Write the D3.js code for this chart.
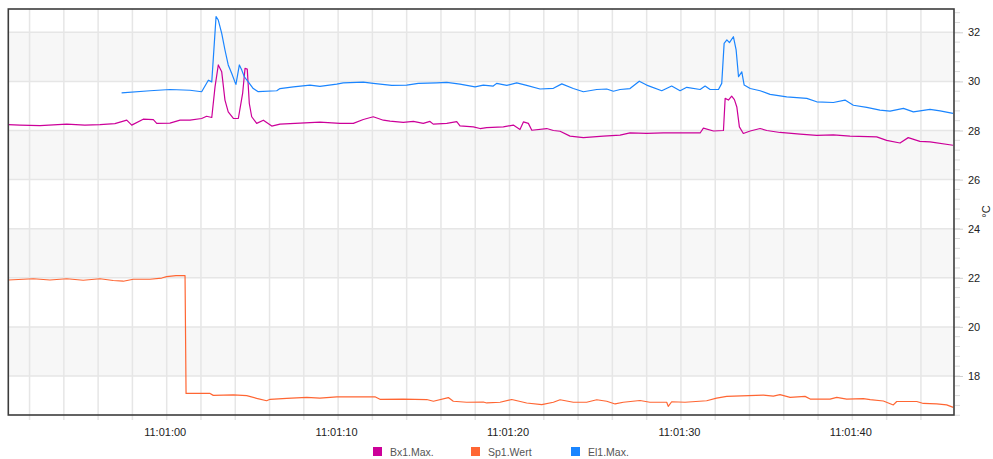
<!DOCTYPE html>
<html>
<head>
<meta charset="utf-8">
<script src="https://cdn.jsdelivr.net/npm/d3@7"></script>
<style>
  body { margin: 0; background: #fff; }
  svg { display: block; font-family: "Liberation Sans", Arial, sans-serif; }
</style>
</head>
<body>
<div id="chart"></div>
<script>
// seconds relative to 11:01:00, values in °C
var seriesNames = ['Bx1.Max.', 'Sp1.Wert', 'El1.Max.'];
var seriesColors = ['#cc0099', '#ff6633', '#1a85ff'];

var bxTime = [-9.24,-8.56,-7.39,-5.83,-4.77,-3.89,-3.02,-2.33,-2.04,-1.37,-0.78,-0.58,0.19,0.78,1.36,2.04,2.33,2.63,2.82,3.01,3.21,3.40,3.59,3.89,4.18,4.43,4.57,4.70,4.82,4.96,5.25,5.64,6.13,6.61,7.78,8.94,10.11,10.89,11.47,12.05,12.64,13.03,13.80,14.39,14.97,15.36,15.55,16.34,16.92,17.11,17.89,18.28,18.67,19.64,20.22,20.61,20.81,21.10,21.30,22.17,22.56,22.95,23.53,24.31,25.47,26.45,27.03,28.00,28.97,31.12,31.31,31.90,32.48,32.58,32.77,32.96,33.12,33.26,33.41,33.64,34.04,34.62,35.01,35.78,36.95,37.92,38.89,39.86,41.42,42.00,42.78,43.26,43.94,44.53,45.87];
var bxValue = [28.24,28.22,28.20,28.26,28.22,28.24,28.28,28.42,28.22,28.46,28.44,28.29,28.30,28.42,28.42,28.49,28.58,28.53,29.78,30.67,30.39,29.24,28.76,28.49,28.49,29.51,30.53,30.50,29.10,28.56,28.29,28.42,28.18,28.26,28.30,28.34,28.29,28.29,28.45,28.56,28.42,28.38,28.33,28.37,28.29,28.37,28.26,28.29,28.36,28.19,28.15,28.08,28.12,28.15,28.22,28.04,28.35,28.29,28.01,28.08,28.00,27.97,27.77,27.71,27.77,27.81,27.90,27.88,27.90,27.90,28.10,27.98,28.00,29.31,29.24,29.40,29.26,28.96,28.15,27.88,27.98,28.08,28.00,27.92,27.85,27.80,27.82,27.77,27.74,27.60,27.49,27.71,27.56,27.54,27.40];

var spTime = [-9.24,-7.78,-6.81,-5.83,-4.87,-3.89,-3.12,-2.53,-1.95,-0.97,-0.29,0.00,0.54,1.07,1.13,2.53,2.72,3.89,4.67,5.25,5.83,6.03,7.00,8.17,8.94,9.92,12.15,12.44,13.80,15.17,15.56,16.43,16.72,17.50,18.47,18.67,19.45,20.13,21.00,21.88,22.56,22.95,23.72,24.50,25.09,25.67,26.16,26.64,27.61,28.19,29.17,29.26,29.46,30.24,31.50,32.08,32.67,34.81,35.39,35.78,36.37,37.24,37.54,38.70,39.09,39.67,40.64,41.04,41.81,42.39,42.59,43.76,44.14,44.92,45.50,45.89];
var spValue = [21.91,21.96,21.91,21.96,21.90,21.96,21.89,21.86,21.94,21.94,21.99,22.05,22.09,22.09,17.29,17.29,17.21,17.23,17.20,17.09,16.99,17.05,17.09,17.13,17.10,17.15,17.15,17.05,17.06,17.04,16.97,17.12,16.97,16.93,16.94,16.90,16.93,17.04,16.90,16.83,16.93,17.03,16.93,16.93,17.03,16.97,16.86,16.93,17.00,16.93,16.93,16.76,16.95,16.93,16.99,17.10,17.17,17.22,17.18,17.24,17.13,17.17,17.06,17.06,17.13,17.06,17.08,17.04,16.98,16.82,16.96,16.96,16.88,16.86,16.82,16.72];

var elTime = [-2.63,-0.97,0.19,1.36,2.04,2.43,2.63,2.88,3.01,3.21,3.40,3.59,3.79,3.98,4.04,4.24,4.38,4.53,4.76,5.05,5.34,6.42,6.61,7.39,8.36,8.94,9.92,10.30,11.47,12.05,13.13,14.00,14.68,15.75,16.34,17.11,17.99,18.47,19.05,19.25,19.84,20.42,21.00,21.78,22.56,23.05,23.72,24.31,25.09,25.67,26.06,26.45,27.03,27.57,28.00,28.88,29.46,29.95,30.34,31.12,31.41,31.70,32.19,32.38,32.52,32.68,32.83,33.06,33.22,33.36,33.55,33.69,34.04,34.62,35.20,36.17,37.34,37.92,38.89,39.57,40.06,40.84,41.61,42.20,42.98,43.56,44.53,45.12,45.87];
var elValue = [29.53,29.62,29.67,29.64,29.58,30.05,29.98,32.64,32.50,31.96,31.28,30.67,30.33,29.98,29.88,30.67,30.46,30.19,29.98,29.71,29.58,29.62,29.71,29.78,29.85,29.80,29.89,29.94,29.97,29.92,29.84,29.85,29.92,29.94,29.96,29.89,29.78,29.85,29.81,29.92,29.84,29.94,29.84,29.69,29.72,29.90,29.71,29.58,29.67,29.69,29.60,29.67,29.71,30.01,29.85,29.62,29.81,29.62,29.76,29.67,29.81,29.67,29.67,29.92,31.55,31.69,31.58,31.82,31.28,30.19,30.39,29.85,29.71,29.62,29.47,29.37,29.31,29.17,29.14,29.24,29.03,28.94,28.83,28.79,28.90,28.76,28.86,28.80,28.70];

var timeStart = -9.24, timeEnd = 45.93;
var valueMin = 16.41, valueMax = 32.95;
var majorTicks = [18, 20, 22, 24, 26, 28, 30, 32];
var bandPairs = [[30, 32], [26, 28], [22, 24], [18, 20]];

function draw_chart() {
  const W = 993, H = 459;
  const margin = {top: 9, right: 39, bottom: 44, left: 8.3};
  const width = W - margin.left - margin.right,
        height = H - margin.top - margin.bottom;

  const base = new Date(2020, 0, 1, 11, 1, 0);
  const toDate = s => new Date(base.getTime() + s * 1000);

  const svg = d3.select('#chart').append('svg')
      .attr('width', W)
      .attr('height', H);

  const g = svg.append('g')
      .attr('transform', `translate(${margin.left},${margin.top})`);

  const x = d3.scaleTime()
      .domain([toDate(timeStart), toDate(timeEnd)])
      .range([0, width]);

  const y = d3.scaleLinear()
      .domain([valueMin, valueMax])
      .range([height, 0]);

  // alternating bands
  g.selectAll('.band')
    .data(bandPairs)
    .join('rect')
      .attr('class', 'band')
      .attr('x', 0)
      .attr('width', width)
      .attr('y', d => y(d[1]))
      .attr('height', d => y(d[0]) - y(d[1]))
      .attr('fill', '#f7f7f7');

  // grid lines
  const tick2s = x.ticks(d3.timeSecond.every(2));
  g.append('g')
    .selectAll('line')
    .data(tick2s)
    .join('line')
      .attr('x1', d => x(d)).attr('x2', d => x(d))
      .attr('y1', 0).attr('y2', height + 5)
      .attr('stroke', '#e6e6e6')
      .attr('stroke-width', 1.5);

  g.append('g')
    .selectAll('line')
    .data(majorTicks)
    .join('line')
      .attr('x1', 0).attr('x2', width)
      .attr('y1', d => y(d)).attr('y2', d => y(d))
      .attr('stroke', '#e6e6e6')
      .attr('stroke-width', 1.5);

  // x axis labels every 10 s
  const xAxis = d3.axisBottom(x)
      .ticks(d3.timeSecond.every(10))
      .tickFormat(d3.timeFormat('%H:%M:%S'))
      .tickSize(0)
      .tickPadding(13);

  const gx = g.append('g')
      .attr('transform', `translate(0,${height})`)
      .call(xAxis);
  gx.select('.domain').remove();
  gx.selectAll('text')
      .attr('dx', -2)
      .attr('font-size', 11)
      .attr('font-family', '"Liberation Sans", Arial, sans-serif')
      .attr('fill', '#222');

  // right axis with minor ticks
  const minorTicks = d3.range(16.4, 32.95, 0.4);
  g.append('g')
    .attr('transform', `translate(${width},0)`)
    .selectAll('line')
    .data(minorTicks)
    .join('line')
      .attr('x1', 1).attr('x2', 6)
      .attr('y1', d => y(d)).attr('y2', d => y(d))
      .attr('stroke', '#dcdcdc');

  const yAxis = d3.axisRight(y)
      .tickValues(majorTicks)
      .tickSize(9)
      .tickPadding(5);

  const gy = g.append('g')
      .attr('transform', `translate(${width},0)`)
      .call(yAxis);
  gy.select('.domain').remove();
  gy.selectAll('line').attr('stroke', '#cfcfcf');
  gy.selectAll('text')
      .attr('font-size', 11)
      .attr('font-family', '"Liberation Sans", Arial, sans-serif')
      .attr('fill', '#222');

  g.append('text')
      .attr('transform', `translate(${width + 36},${y(24.7)}) rotate(-90)`)
      .attr('text-anchor', 'middle')
      .attr('font-size', 11)
      .attr('fill', '#222')
      .text('°C');

  // lines
  const line = d3.line()
      .x(d => x(toDate(d[0])))
      .y(d => y(d[1]));

  const seriesData = [
    d3.zip(bxTime, bxValue),
    d3.zip(spTime, spValue),
    d3.zip(elTime, elValue)
  ];

  g.append('g')
    .selectAll('path')
    .data(seriesData)
    .join('path')
      .attr('d', line)
      .attr('fill', 'none')
      .attr('stroke', (d, i) => seriesColors[i])
      .attr('stroke-width', 1.2)
      .attr('stroke-linejoin', 'round');

  // frame
  g.append('rect')
      .attr('x', 0).attr('y', 0)
      .attr('width', width).attr('height', height)
      .attr('fill', 'none')
      .attr('stroke', '#3c3c3c')
      .attr('stroke-width', 1.6);

  // legend
  const legendX = [373, 471, 571];
  const lg = svg.append('g')
    .selectAll('g')
    .data(seriesNames)
    .join('g')
      .attr('transform', (d, i) => `translate(${legendX[i]},447)`);
  lg.append('rect')
      .attr('width', 9).attr('height', 9)
      .attr('fill', (d, i) => seriesColors[i]);
  lg.append('text')
      .attr('x', 17).attr('y', 9)
      .attr('font-size', 10.5)
      .attr('fill', '#555')
      .text(d => d);
}

draw_chart();
</script>
</body>
</html>
